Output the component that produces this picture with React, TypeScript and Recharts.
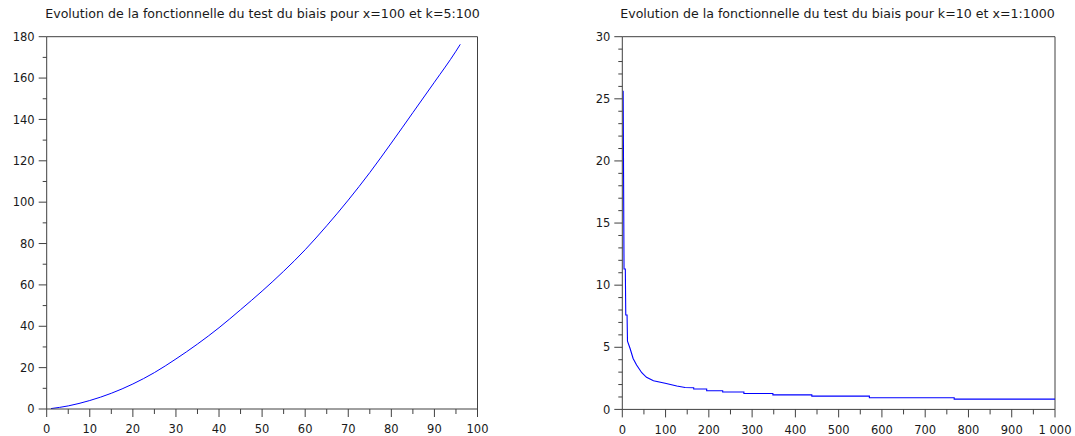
import React from 'react';
import { LineChart, Line, XAxis, YAxis, ReferenceLine } from 'recharts';

const FONT = '"DejaVu Sans", sans-serif';
const AXIS = '#404040';
const TEXT = '#1a1a1a';

const leftTitle = 'Evolution de la fonctionnelle du test du biais pour x=100 et k=5:100';
const rightTitle = 'Evolution de la fonctionnelle du test du biais pour k=10 et x=1:1000';

// Left chart: index 1..96
const leftX = [1, 5, 10, 15, 20, 25, 30, 35, 40, 45, 50, 55, 60, 65, 70, 75, 80, 85, 90, 95, 96];
const leftY = [0.2, 1.5, 4.1, 7.6, 12.1, 17.6, 24.2, 31.4, 39.3, 48.0, 57.0, 66.6, 77.0, 88.6, 101.0, 114.3, 128.6, 143.3, 158.0, 173.0, 176.3];

// Right chart: x = 1..1000 (staircase decay)
const rightX = [1, 2, 4, 7, 8, 11, 12, 18, 25, 33, 45, 56, 72, 99, 126, 145, 165, 165, 195, 195, 232, 232, 281, 281, 348, 348, 438, 438, 571, 571, 767, 767, 1000];
const rightY = [25.6, 25.6, 11.3, 11.3, 7.6, 7.6, 5.5, 4.9, 4.1, 3.57, 2.95, 2.58, 2.31, 2.1, 1.88, 1.76, 1.74, 1.64, 1.64, 1.5, 1.5, 1.4, 1.4, 1.28, 1.28, 1.17, 1.17, 1.07, 1.07, 0.94, 0.94, 0.83, 0.83];

const leftXTicks = [0, 5, 10, 15, 20, 25, 30, 35, 40, 45, 50, 55, 60, 65, 70, 75, 80, 85, 90, 95, 100];
const leftYTicks = [0, 10, 20, 30, 40, 50, 60, 70, 80, 90, 100, 110, 120, 130, 140, 150, 160, 170, 180];
const rightXTicks = [0, 50, 100, 150, 200, 250, 300, 350, 400, 450, 500, 550, 600, 650, 700, 750, 800, 850, 900, 950, 1000];
const rightYTicks = [0, 1, 2, 3, 4, 5, 6, 7, 8, 9, 10, 11, 12, 13, 14, 15, 16, 17, 18, 19, 20, 21, 22, 23, 24, 25, 26, 27, 28, 29, 30];

const leftData = leftX.map((x, i) => ({ x, y: leftY[i] }));
const rightData = rightX.map((x, i) => ({ x, y: rightY[i] }));

const fmt = (v: number) => (v >= 1000 ? String(v).replace(/\B(?=(\d{3})+(?!\d))/g, ' ') : String(v));

function makeYTick(step: number) {
  return (props: any) => {
    const { x, y, payload } = props;
    const v = payload.value;
    const isMajor = Math.abs(v / step - Math.round(v / step)) < 1e-9;
    return (
      <g>
        <line x1={x - (isMajor ? 8 : 4)} x2={x} y1={y} y2={y} stroke={AXIS} strokeWidth={1} />
        {isMajor && (
          <text x={x - 12} y={y} dy="0.36em" textAnchor="end" fontSize={11.5} fill={TEXT} fontFamily={FONT}>
            {fmt(v)}
          </text>
        )}
      </g>
    );
  };
}

function makeXTick(step: number) {
  return (props: any) => {
    const { x, y, payload } = props;
    const v = payload.value;
    const isMajor = Math.abs(v / step - Math.round(v / step)) < 1e-9;
    return (
      <g>
        <line x1={x} x2={x} y1={y} y2={y + (isMajor ? 8 : 5)} stroke={AXIS} strokeWidth={1} />
        {isMajor && (
          <text x={x} y={y + 20} dy="0.36em" textAnchor="middle" fontSize={11.5} fill={TEXT} fontFamily={FONT}>
            {fmt(v)}
          </text>
        )}
      </g>
    );
  };
}

const titleStyle = (center: number): React.CSSProperties => ({
  position: 'absolute',
  top: 8.3,
  left: center - 300,
  width: 600,
  textAlign: 'center',
  fontFamily: FONT,
  fontSize: 12.6,
  lineHeight: '12.6px',
  color: TEXT,
  whiteSpace: 'nowrap',
});

export default function App() {
  return (
    <div style={{ position: 'absolute', left: 0, top: 0, width: 1075, height: 436, background: '#fff' }}>
      <div style={titleStyle(262.5)}>{leftTitle}</div>
      <div style={titleStyle(837.5)}>{rightTitle}</div>

      <div style={{ position: 'absolute', left: 0, top: 0 }}>
        <LineChart width={537} height={436} data={leftData} margin={{ top: 36.7, right: 59.5, bottom: 0, left: 0 }}>
          <XAxis
            type="number"
            dataKey="x"
            domain={[0, 100]}
            ticks={leftXTicks}
            interval={0}
            height={27}
            tickSize={0}
            tickMargin={0}
            tickLine={false}
            axisLine={{ stroke: AXIS }}
            tick={makeXTick(10)}
            allowDataOverflow
          />
          <YAxis
            type="number"
            dataKey="y"
            domain={[0, 180]}
            ticks={leftYTicks}
            interval={0}
            width={46.7}
            tickSize={0}
            tickMargin={0}
            tickLine={false}
            axisLine={{ stroke: AXIS }}
            tick={makeYTick(20)}
            allowDataOverflow
          />
          <ReferenceLine y={180} stroke={AXIS} />
          <ReferenceLine x={100} stroke={AXIS} />
          <Line type="monotone" dataKey="y" stroke="#0000ff" strokeWidth={1} dot={false} isAnimationActive={false} />
        </LineChart>
      </div>

      <div style={{ position: 'absolute', left: 537, top: 0 }}>
        <LineChart width={538} height={436} data={rightData} margin={{ top: 36.7, right: 20, bottom: 0, left: 0 }}>
          <XAxis
            type="number"
            dataKey="x"
            domain={[0, 1000]}
            ticks={rightXTicks}
            interval={0}
            height={26.6}
            tickSize={0}
            tickMargin={0}
            tickLine={false}
            axisLine={{ stroke: AXIS }}
            tick={makeXTick(100)}
            allowDataOverflow
          />
          <YAxis
            type="number"
            dataKey="y"
            domain={[0, 30]}
            ticks={rightYTicks}
            interval={0}
            width={85.3}
            tickSize={0}
            tickMargin={0}
            tickLine={false}
            axisLine={{ stroke: AXIS }}
            tick={makeYTick(5)}
            allowDataOverflow
          />
          <ReferenceLine y={30} stroke={AXIS} />
          <ReferenceLine x={1000} stroke={AXIS} />
          <Line type="linear" dataKey="y" stroke="#0000ff" strokeWidth={1.1} dot={false} isAnimationActive={false} />
        </LineChart>
      </div>
    </div>
  );
}
